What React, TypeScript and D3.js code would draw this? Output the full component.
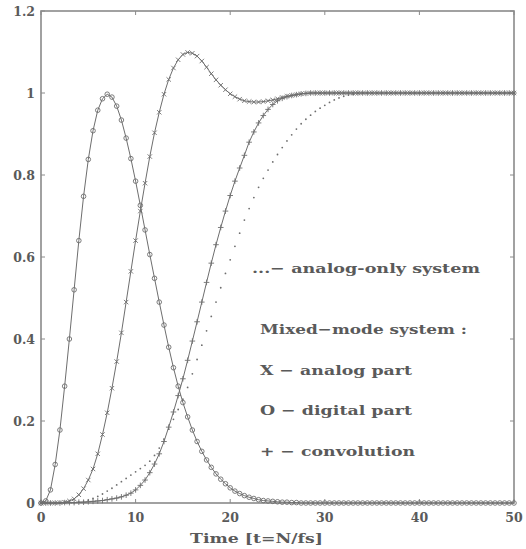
import React from "react";
import * as d3 from "d3";

// sampling grid: t = 0 .. 50, step 0.5
const time: number[] = d3.range(0, 50.0001, 0.5);

const ones = (n: number) => Array(n).fill(1);
const zeros = (n: number) => Array(n).fill(0);

// O - digital part
const digital: number[] = [
  0, 0.005, 0.032, 0.094, 0.178, 0.285, 0.4, 0.52, 0.64, 0.748,
  0.838, 0.908, 0.958, 0.986, 0.997, 0.99, 0.968, 0.934, 0.89, 0.84,
  0.785, 0.726, 0.666, 0.606, 0.548, 0.49, 0.434, 0.38, 0.33, 0.285,
  0.245, 0.21, 0.178, 0.15, 0.126, 0.105, 0.087, 0.071, 0.058, 0.047,
  0.037, 0.029, 0.023, 0.018, 0.014, 0.011, 0.008, 0.006, 0.005, 0.004,
  0.003, 0.002, 0.002, 0.001, 0.001, 0, 0, 0, 0, 0,
  ...zeros(41),
];

// X - analog part
const analog: number[] = [
  0, 0, 0, 0, 0.001, 0.002, 0.005, 0.01, 0.02, 0.035,
  0.056, 0.083, 0.12, 0.167, 0.22, 0.28, 0.345, 0.415, 0.49, 0.565,
  0.64, 0.712, 0.78, 0.845, 0.903, 0.953, 0.997, 1.033, 1.061, 1.081,
  1.094, 1.099, 1.097, 1.09, 1.078, 1.063, 1.047, 1.032, 1.019, 1.008,
  0.998, 0.991, 0.985, 0.981, 0.979, 0.978, 0.978, 0.979, 0.981, 0.983,
  0.986, 0.989, 0.992, 0.994, 0.996, 0.998, 0.999, 1, 1, 1,
  ...ones(41),
];

// + - convolution
const convolution: number[] = [
  0, 0, 0, 0, 0, 0.001, 0.001, 0.001, 0.002, 0.002,
  0.003, 0.004, 0.005, 0.006, 0.008, 0.01, 0.012, 0.015, 0.019, 0.024,
  0.032, 0.043, 0.056, 0.074, 0.095, 0.12, 0.15, 0.185, 0.222, 0.262,
  0.303, 0.348, 0.395, 0.442, 0.49, 0.538, 0.585, 0.63, 0.672, 0.712,
  0.75, 0.785, 0.817, 0.848, 0.88, 0.905, 0.927, 0.945, 0.96, 0.972,
  0.981, 0.987, 0.991, 0.994, 0.996, 0.998, 0.999, 1, 1, 1,
  ...ones(41),
];

// ... analog-only system
const analogOnly: number[] = [
  0, 0, 0, 0, 0, 0, 0, 0.001, 0.002, 0.004,
  0.007, 0.011, 0.016, 0.022, 0.029, 0.036, 0.044, 0.052, 0.06, 0.068,
  0.076, 0.084, 0.092, 0.102, 0.116, 0.134, 0.156, 0.18, 0.204, 0.228,
  0.253, 0.282, 0.315, 0.35, 0.385, 0.42, 0.455, 0.49, 0.525, 0.56,
  0.593, 0.626, 0.658, 0.69, 0.718, 0.745, 0.77, 0.792, 0.812, 0.832,
  0.85, 0.867, 0.883, 0.898, 0.912, 0.925, 0.936, 0.946, 0.955, 0.963,
  0.97, 0.977, 0.983, 0.988, 0.992, 0.995, 0.997, 0.999, 1, 1,
  ...ones(31),
];

const xTicks = [0, 10, 20, 30, 40, 50];
const yTicks = [0, 0.2, 0.4, 0.6, 0.8, 1, 1.2];
const xLabel = "Time [t=N/fs]";
const legendLines = [
  { text: "...\u2212 analog-only system", x: 252, y: 273, w: 228 },
  { text: "Mixed\u2212mode system :", x: 260, y: 334, w: 207 },
  { text: "X \u2212 analog part", x: 260, y: 375, w: 152 },
  { text: "O \u2212 digital part", x: 260, y: 415, w: 152 },
  { text: "+ \u2212 convolution", x: 260, y: 456, w: 155 },
];

const W = 526;
const H = 549;
const LEFT = 41;
const RIGHT = 514;
const TOP = 11;
const BOTTOM = 503;

const INK = "#6e6e6e";
const TEXT = "#5a5a5a";
const FONT = "'DejaVu Serif', 'Liberation Serif', serif";

export default function App() {
  const x = d3.scaleLinear().domain([0, 50]).range([LEFT, RIGHT]);
  const y = d3.scaleLinear().domain([0, 1.2]).range([BOTTOM, TOP]);
  const line = d3
    .line<number>()
    .x((_, i) => x(time[i]))
    .y((d) => y(d));

  const pts = (vals: number[]) => vals.map((v, i) => [x(time[i]), y(v)] as [number, number]);

  return (
    <svg
      width={W}
      height={H}
      style={{ position: "absolute", left: 0, top: 0, background: "#fff" }}
      fontFamily={FONT}
    >
      <rect x={0} y={0} width={W} height={H} fill="#fff" />
      {/* frame */}
      <rect
        x={LEFT}
        y={TOP}
        width={RIGHT - LEFT}
        height={BOTTOM - TOP}
        fill="none"
        stroke="#8a8a8a"
        strokeWidth={1.6}
      />
      {/* ticks */}
      {xTicks.map((t) => (
        <g key={"xt" + t}>
          <line x1={x(t)} x2={x(t)} y1={BOTTOM} y2={BOTTOM - 4} stroke="#8a8a8a" strokeWidth={1} />
          <line x1={x(t)} x2={x(t)} y1={TOP} y2={TOP + 4} stroke="#8a8a8a" strokeWidth={1} />
          <text
            x={x(t)}
            y={522}
            textAnchor="middle"
            fontSize={12.5}
            fontWeight="bold"
            fill={TEXT}
          >
            {t}
          </text>
        </g>
      ))}
      {yTicks.map((t) => (
        <g key={"yt" + t}>
          <line x1={LEFT} x2={LEFT + 4} y1={y(t)} y2={y(t)} stroke="#8a8a8a" strokeWidth={1} />
          <line x1={RIGHT} x2={RIGHT - 4} y1={y(t)} y2={y(t)} stroke="#8a8a8a" strokeWidth={1} />
          <text
            x={35}
            y={y(t) + 4.5}
            textAnchor="end"
            fontSize={12.5}
            fontWeight="bold"
            fill={TEXT}
          >
            {d3.format("~g")(t)}
          </text>
        </g>
      ))}

      {/* analog-only: dots */}
      {pts(analogOnly).map(([px, py], i) => (
        <circle key={"a" + i} cx={px} cy={py} r={0.9} fill={INK} />
      ))}

      {/* lines */}
      <path d={line(digital) || ""} fill="none" stroke={INK} strokeWidth={1} />
      <path d={line(analog) || ""} fill="none" stroke={INK} strokeWidth={1} />
      <path d={line(convolution) || ""} fill="none" stroke={INK} strokeWidth={1} />

      {/* O markers */}
      {pts(digital).map(([px, py], i) => (
        <circle key={"o" + i} cx={px} cy={py} r={2.3} fill="none" stroke={INK} strokeWidth={0.9} />
      ))}
      {/* X markers */}
      {pts(analog).map(([px, py], i) => (
        <path
          key={"x" + i}
          d={`M${px - 2.2},${py - 2.2}L${px + 2.2},${py + 2.2}M${px - 2.2},${py + 2.2}L${px + 2.2},${py - 2.2}`}
          stroke={INK}
          strokeWidth={0.9}
        />
      ))}
      {/* + markers */}
      {pts(convolution).map(([px, py], i) => (
        <path
          key={"p" + i}
          d={`M${px - 2.8},${py}L${px + 2.8},${py}M${px},${py - 2.8}L${px},${py + 2.8}`}
          stroke={INK}
          strokeWidth={0.9}
        />
      ))}

      {/* legend text */}
      {legendLines.map((l) => (
        <text
          key={l.text}
          x={l.x}
          y={l.y}
          fontSize={13}
          fontWeight="bold"
          fill={TEXT}
          textLength={l.w}
          lengthAdjust="spacingAndGlyphs"
        >
          {l.text}
        </text>
      ))}

      {/* x axis label */}
      <text
        x={190}
        y={543}
        fontSize={13}
        fontWeight="bold"
        fill={TEXT}
        textLength={133}
        lengthAdjust="spacingAndGlyphs"
      >
        {xLabel}
      </text>
    </svg>
  );
}
